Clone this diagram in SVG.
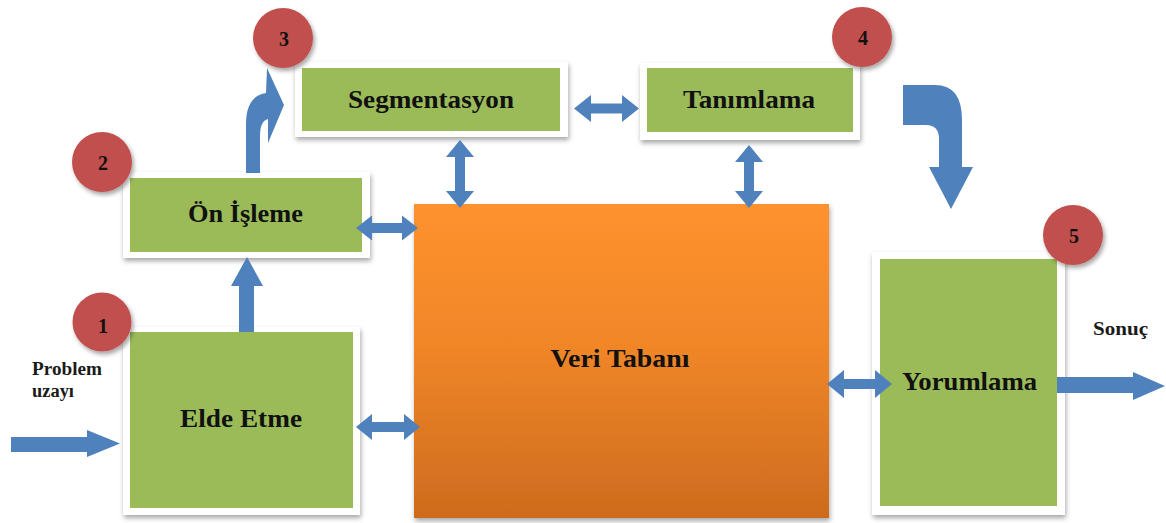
<svg xmlns="http://www.w3.org/2000/svg" width="1166" height="523" viewBox="0 0 1166 523">
<style>
.frame{fill:#ffffff;filter:url(#sh)}
.green{fill:#9BBB59}
.arr{fill:#4F81BD}
.badge{fill:#C0504D;filter:url(#csh)}
.num{font-family:"Liberation Serif","Times New Roman",serif;font-weight:bold;font-size:20px;fill:#111;text-anchor:middle}
.lbl{font-family:"Liberation Serif","Times New Roman",serif;font-weight:bold;font-size:25px;fill:#111;text-anchor:middle}
.small{font-family:"Liberation Serif","Times New Roman",serif;font-weight:bold;font-size:18px;fill:#1a1a1a}
</style>
<defs>
<filter id="sh" x="-10%" y="-10%" width="125%" height="130%">
<feDropShadow dx="1" dy="3" stdDeviation="2.5" flood-color="#000" flood-opacity="0.35"/>
</filter>
<filter id="csh" x="-20%" y="-20%" width="150%" height="150%">
<feDropShadow dx="2" dy="3" stdDeviation="2" flood-color="#000" flood-opacity="0.35"/>
</filter>
<linearGradient id="og" x1="0" y1="0" x2="0" y2="1">
<stop offset="0" stop-color="#FE922E"/>
<stop offset="0.45" stop-color="#F08628"/>
<stop offset="1" stop-color="#CD6B1E"/>
</linearGradient>
</defs>

<g id="node-veri">
<rect x="414" y="204" width="415" height="314" fill="url(#og)" filter="url(#sh)"/>
<text class="lbl" x="620" y="367" textLength="139" lengthAdjust="spacingAndGlyphs">Veri Tabanı</text>
</g>

<g id="node-elde">
<rect class="frame" x="123" y="327" width="237" height="188"/>
<rect class="green" x="130" y="332" width="223" height="176"/>
<text class="lbl" x="241" y="427" textLength="122" lengthAdjust="spacingAndGlyphs">Elde Etme</text>
</g>

<g id="node-on">
<rect class="frame" x="123" y="172" width="247" height="86"/>
<rect class="green" x="130" y="178" width="232" height="74"/>
<text class="lbl" x="245.5" y="222" textLength="115" lengthAdjust="spacingAndGlyphs">Ön İşleme</text>
</g>

<g id="node-seg">
<rect class="frame" x="295" y="62" width="273" height="75"/>
<rect class="green" x="302" y="68" width="258" height="63"/>
<text class="lbl" x="431" y="108" textLength="166" lengthAdjust="spacingAndGlyphs">Segmentasyon</text>
</g>

<g id="node-tan">
<rect class="frame" x="640" y="63" width="220" height="77"/>
<rect class="green" x="647" y="68" width="206" height="64"/>
<text class="lbl" x="749" y="108" textLength="132" lengthAdjust="spacingAndGlyphs">Tanımlama</text>
</g>

<g id="node-yor">
<rect class="frame" x="872" y="252" width="193" height="263"/>
<rect class="green" x="880" y="259" width="177" height="247"/>
<text class="lbl" x="969.5" y="390" textLength="135" lengthAdjust="spacingAndGlyphs">Yorumlama</text>
</g>

<g id="connectors">
<polygon class="arr" points="11,437 87,437 87,430 120,443.5 87,457 87,452 11,452"/>
<polygon class="arr" points="239,332 239,286 231,286 247,257 263,286 254,286 254,332"/>
<path class="arr" d="M246,173 L246,124 Q246,96 266,93 L267,68 L284,105 L268,143 L268,119 Q260,121 260,136 L260,173 Z"/>
<polygon class="arr" points="356,228 372,215.5 372,223 402,223 402,215.5 418,228 402,240.5 402,233 372,233 372,240.5"/>
<polygon class="arr" points="356,427 372,414 372,422 404,422 404,414 420,427 404,440 404,432 372,432 372,440"/>
<polygon class="arr" points="574,108.5 591,95 591,103.5 622,103.5 622,95 639,108.5 622,122 622,113.5 591,113.5 591,122"/>
<polygon class="arr" points="460,140 474,157 465,157 465,191 474,191 460,208 446,191 455,191 455,157 446,157"/>
<polygon class="arr" points="749,145 763,162 754,162 754,191 763,191 749,208 735,191 744,191 744,162 735,162"/>
<path class="arr" d="M903,85 L935,85 Q962,85 962,120 L962,167 L973,167 L951,209 L929,167 L939,167 L939,139 Q939,125 926,125 L903,125 Z"/>
<polygon class="arr" points="827,384 844,370 844,379 875,379 875,370 892,384 875,398 875,389 844,389 844,398"/>
<polygon class="arr" points="1057,377 1133,377 1133,372 1165,386 1133,400 1133,393 1057,393"/>
</g>

<g id="badge-1">
<circle class="badge" cx="102" cy="322" r="29.5"/>
<text class="num" x="103" y="333">1</text>
</g>
<g id="badge-2">
<circle class="badge" cx="102" cy="162" r="30"/>
<text class="num" x="103" y="170">2</text>
</g>
<g id="badge-3">
<circle class="badge" cx="283" cy="38" r="30"/>
<text class="num" x="284" y="46">3</text>
</g>
<g id="badge-4">
<circle class="badge" cx="862" cy="37" r="30"/>
<text class="num" x="863" y="45">4</text>
</g>
<g id="badge-5">
<circle class="badge" cx="1073" cy="235" r="30"/>
<text class="num" x="1074" y="243">5</text>
</g>

<g id="labels">
<text class="small" x="32" y="375" textLength="70" lengthAdjust="spacingAndGlyphs">Problem</text>
<text class="small" x="32" y="397" textLength="42" lengthAdjust="spacingAndGlyphs">uzayı</text>
<text class="small" x="1093" y="335" textLength="55" lengthAdjust="spacingAndGlyphs">Sonuç</text>
</g>
</svg>
